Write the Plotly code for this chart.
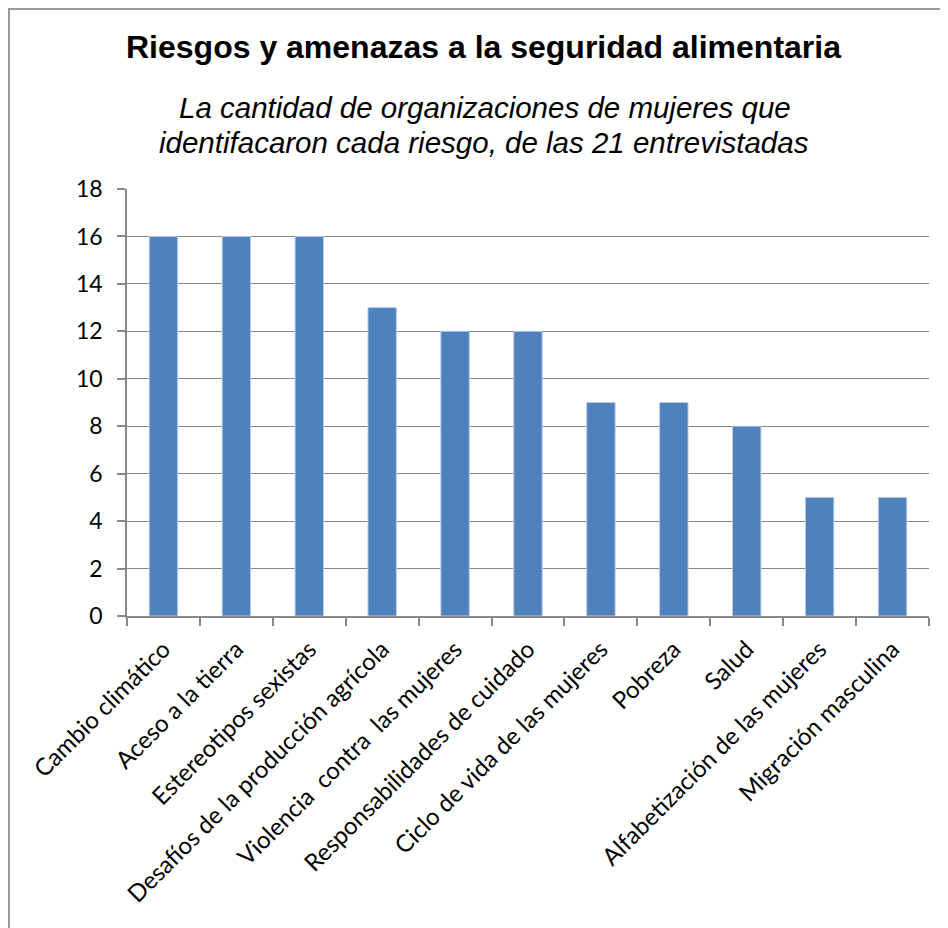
import plotly.graph_objects as go

categories = [
    "Cambio climático",
    "Aceso a la tierra",
    "Estereotipos sexistas",
    "Desafíos de la producción agrícola",
    "Violencia\u00a0 contra\u00a0 las mujeres",
    "Responsabilidades de cuidado",
    "Ciclo de vida de las mujeres",
    "Pobreza",
    "Salud",
    "Alfabetización de las mujeres",
    "Migración masculina",
]
values = [16, 16, 16, 13, 12, 12, 9, 9, 8, 5, 5]
y_ticks = list(range(0, 19, 2))

title_text = "Riesgos y amenazas a la seguridad alimentaria"
subtitle_lines = [
    "La cantidad de organizaciones de mujeres que",
    "identifacaron cada riesgo, de las 21 entrevistadas",
]

# page has an 8px body margin; figure coords = page coords - 8
OFF = 8
W, H = 948 - OFF, 928 - OFF
L, T = 127 - OFF, 189 - OFF
R = W - (929 - OFF)
B = H - (616 - OFF)
pw, ph = W - L - R, H - T - B


def px_x(x):
    return (x - OFF - L) / pw


def px_y(y):
    return (H - B - (y - OFF)) / ph


fig = go.Figure(
    go.Bar(
        x=categories,
        y=values,
        marker=dict(color="#4F81BD", line=dict(color="#B9CDE5", width=1)),
    )
)

annotations = [
    dict(
        text="<b>" + title_text + "</b>",
        xref="paper", yref="paper",
        x=px_x(483), y=px_y(47),
        xanchor="center", yanchor="middle",
        showarrow=False,
        font=dict(family="Liberation Sans, Arial, sans-serif", size=32, color="black"),
    )
]
for line, (cx, cy) in zip(subtitle_lines, [(485, 107), (484, 142)]):
    annotations.append(
        dict(
            text="<i>" + line + "</i>",
            xref="paper", yref="paper",
            x=px_x(cx), y=px_y(cy),
            xanchor="center", yanchor="middle",
            showarrow=False,
            font=dict(family="Liberation Sans, Arial, sans-serif", size=29.5, color="black"),
        )
    )

fig.update_layout(
    width=W,
    height=H,
    margin=dict(l=L, r=R, t=T, b=B),
    paper_bgcolor="white",
    plot_bgcolor="white",
    bargap=0.61,
    showlegend=False,
    font=dict(family="Lato, Carlito, sans-serif", color="black"),
    annotations=annotations,
    shapes=[
        dict(
            type="rect", xref="paper", yref="paper",
            x0=px_x(OFF + 1), x1=px_x(948 + 20), y0=px_y(928 + 20), y1=px_y(OFF + 1),
            line=dict(color="#999999", width=2),
            fillcolor="rgba(0,0,0,0)", layer="below",
        )
    ],
)

fig.update_xaxes(
    showline=True, linecolor="#888888", linewidth=1.5,
    ticks="outside", tickson="boundaries", ticklen=8, tickcolor="#888888", tickwidth=1.5,
    tickangle=-45, tickfont=dict(size=24, family="Lato, Carlito, sans-serif", color="black"),
    ticklabelstandoff=8,
    showgrid=False,
)
fig.update_yaxes(
    range=[0, 18], tickvals=y_ticks,
    showline=True, linecolor="#888888", linewidth=1.5,
    ticks="outside", ticklen=8, tickcolor="#888888", tickwidth=1.5,
    showgrid=True, gridcolor="#888888", gridwidth=1.2,
    zeroline=False,
    ticklabelstandoff=10,
    tickfont=dict(size=23, family="Lato, Carlito, sans-serif", color="black"),
)

fig.write_html("out.html")
